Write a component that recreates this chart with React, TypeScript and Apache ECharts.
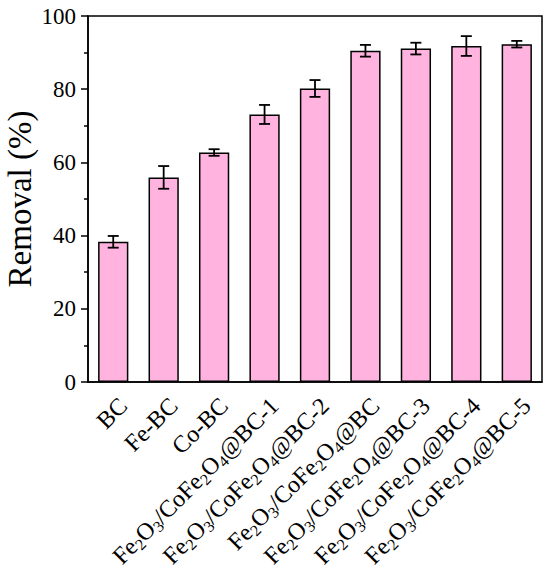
import React, { useEffect, useRef } from "react";
import * as echarts from "echarts";

const categories = [
  "BC",
  "Fe-BC",
  "Co-BC",
  "Fe2O3/CoFe2O4@BC-1",
  "Fe2O3/CoFe2O4@BC-2",
  "Fe2O3/CoFe2O4@BC",
  "Fe2O3/CoFe2O4@BC-3",
  "Fe2O3/CoFe2O4@BC-4",
  "Fe2O3/CoFe2O4@BC-5",
];
const removal = [38.3, 55.9, 62.7, 73.1, 80.2, 90.5, 91.1, 91.8, 92.3];
const errors = [1.6, 3.1, 0.9, 2.6, 2.3, 1.6, 1.6, 2.7, 0.9];
const yTicks = [0, 20, 40, 60, 80, 100];

const FONT = "'Liberation Serif', 'Times New Roman', serif";

export default function App() {
  const ref = useRef<HTMLDivElement>(null);
  useEffect(() => {
    if (!ref.current) return;
    const chart = echarts.init(ref.current, null, { renderer: "svg" });
    const option = {
      animation: false,
      backgroundColor: "#fff",
      grid: {
        left: 88,
        right: 8,
        top: 16,
        bottom: 196,
        containLabel: false,
        outerBoundsMode: "none",
        show: true,
        borderColor: "#000",
        borderWidth: 1.5,
        backgroundColor: "transparent",
      },
      xAxis: {
        type: "category",
        data: categories,
        axisLine: { lineStyle: { color: "#000", width: 1.5 } },
        axisTick: {
          alignWithLabel: true,
          length: 6,
          lineStyle: { color: "#000", width: 1.5 },
        },
        axisLabel: {
          interval: 0,
          rotate: 45,
          margin: 10,
          verticalAlign: "top",
          color: "#000",
          fontSize: 24,
          fontFamily: FONT,
          lineHeight: 28,
          formatter: (v: string) => v.replace(/([A-Za-z])(\d)/g, "$1{s|$2}"),
          rich: {
            s: {
              fontSize: 16,
              fontFamily: FONT,
              color: "#000",
              verticalAlign: "bottom",
              lineHeight: 16,
            },
          },
        },
        splitLine: { show: false },
      },
      yAxis: {
        type: "value",
        min: yTicks[0],
        max: yTicks[yTicks.length - 1],
        interval: 20,
        name: "Removal (%)",
        nameLocation: "middle",
        nameGap: 52,
        nameMoveOverlap: false,
        nameTextStyle: { fontSize: 33, fontFamily: FONT, color: "#000" },
        axisLine: { show: true, lineStyle: { color: "#000", width: 1.5 } },
        axisTick: { show: true, length: 7, lineStyle: { color: "#000", width: 1.5 } },
        minorTick: { show: true, splitNumber: 2, length: 4, lineStyle: { color: "#000", width: 1.5 } },
        axisLabel: { fontSize: 23, fontFamily: FONT, color: "#000", margin: 12 },
        splitLine: { show: false },
        minorSplitLine: { show: false },
      },
      series: [
        {
          type: "bar",
          data: removal,
          barWidth: "60%",
          itemStyle: { color: "#FFB3DE", borderColor: "#000", borderWidth: 1.5 },
          z: 2,
        },
        {
          type: "custom",
          z: 3,
          data: removal.map((v, i) => [i, v, errors[i]]),
          renderItem: (params: any, api: any) => {
            const x = api.value(0);
            const v = api.value(1);
            const e = api.value(2);
            const top = api.coord([x, v + e]);
            const bot = api.coord([x, v - e]);
            const hw = 5.5;
            const style = { stroke: "#000", lineWidth: 1.8 };
            return {
              type: "group",
              children: [
                { type: "line", shape: { x1: top[0], y1: top[1], x2: bot[0], y2: bot[1] }, style },
                { type: "line", shape: { x1: top[0] - hw, y1: top[1], x2: top[0] + hw, y2: top[1] }, style },
                { type: "line", shape: { x1: bot[0] - hw, y1: bot[1], x2: bot[0] + hw, y2: bot[1] }, style },
              ],
            };
          },
        },
      ],
    };
    chart.setOption(option as any);
    return () => chart.dispose();
  }, []);
  return (
    <div
      ref={ref}
      style={{ position: "fixed", left: 0, top: 0, width: 550, height: 578, background: "#fff" }}
    />
  );
}
